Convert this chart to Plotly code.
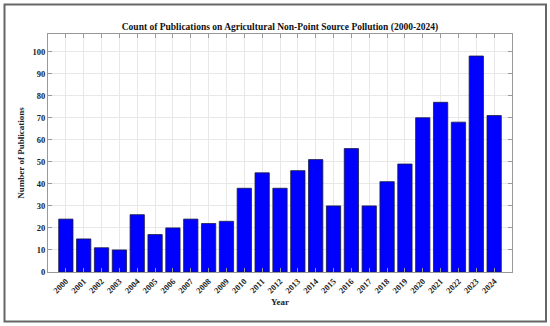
import plotly.graph_objects as go

years = [str(y) for y in range(2000, 2025)]
counts = [24, 15, 11, 10, 26, 17, 20, 24, 22, 23, 38, 45, 38, 46, 51, 30, 56, 30, 41, 49, 70, 77, 68, 98, 71]
year_nums = list(range(2000, 2025))
y_ticks = list(range(0, 101, 10))

FONT = "Liberation Serif"
W, H = 550, 326
L, R, T, B = 48, 38, 34, 54
pw, ph = W - L - R, H - T - B

fig = go.Figure(go.Bar(
    x=year_nums, y=counts, width=0.8,
    marker=dict(color="#0000FF", line=dict(color="#1a1a40", width=0.8)),
))

fig.update_layout(
    width=W, height=H,
    margin=dict(l=L, r=R, t=T, b=B),
    paper_bgcolor="white", plot_bgcolor="white",
    font=dict(family=FONT, color="#222222"),
    title=dict(text="<b>Count of Publications on Agricultural Non-Point Source Pollution (2000-2024)</b>",
               x=0.5, xref="paper", y=1, yref="paper", yanchor="bottom",
               pad=dict(b=4), font=dict(size=9.5, family=FONT, color="#111111")),
    showlegend=False,
    shapes=[dict(type="rect", xref="paper", yref="paper",
                 x0=(4.5 - L) / pw, x1=(546 - L) / pw,
                 y0=(H - B - 321.5) / ph, y1=(H - B - 4.5) / ph,
                 line=dict(color="#666666", width=2), layer="above")],
)

fig.update_xaxes(
    range=[1999, 2025], tickmode="array", tickvals=year_nums, ticktext=years,
    tickangle=-45, tickfont=dict(size=8.5, family=FONT, color="#222222", weight="bold"),
    showgrid=True, gridcolor="#e8e8e8", gridwidth=1,
    showline=True, linecolor="#999999", linewidth=1, mirror="ticks",
    ticks="inside", ticklen=4, tickcolor="#999999",
    title=dict(text="<b>Year</b>", font=dict(size=9, family=FONT, color="#222222"), standoff=4),
    zeroline=False, automargin=False,
)
fig.update_yaxes(
    range=[0, 108], tickmode="array", tickvals=y_ticks,
    tickfont=dict(size=8.5, family=FONT, color="#222222", weight="bold"),
    showgrid=True, gridcolor="#e8e8e8", gridwidth=1,
    showline=True, linecolor="#999999", linewidth=1, mirror="ticks",
    ticks="inside", ticklen=4, tickcolor="#999999",
    title=dict(text="<b>Number of Publications</b>", font=dict(size=9, family=FONT, color="#222222"), standoff=6),
    zeroline=False, automargin=False,
)

fig.write_html("out.html", config={"displayModeBar": False},
               post_script="document.body.style.margin='0px';document.body.style.padding='0px';")
